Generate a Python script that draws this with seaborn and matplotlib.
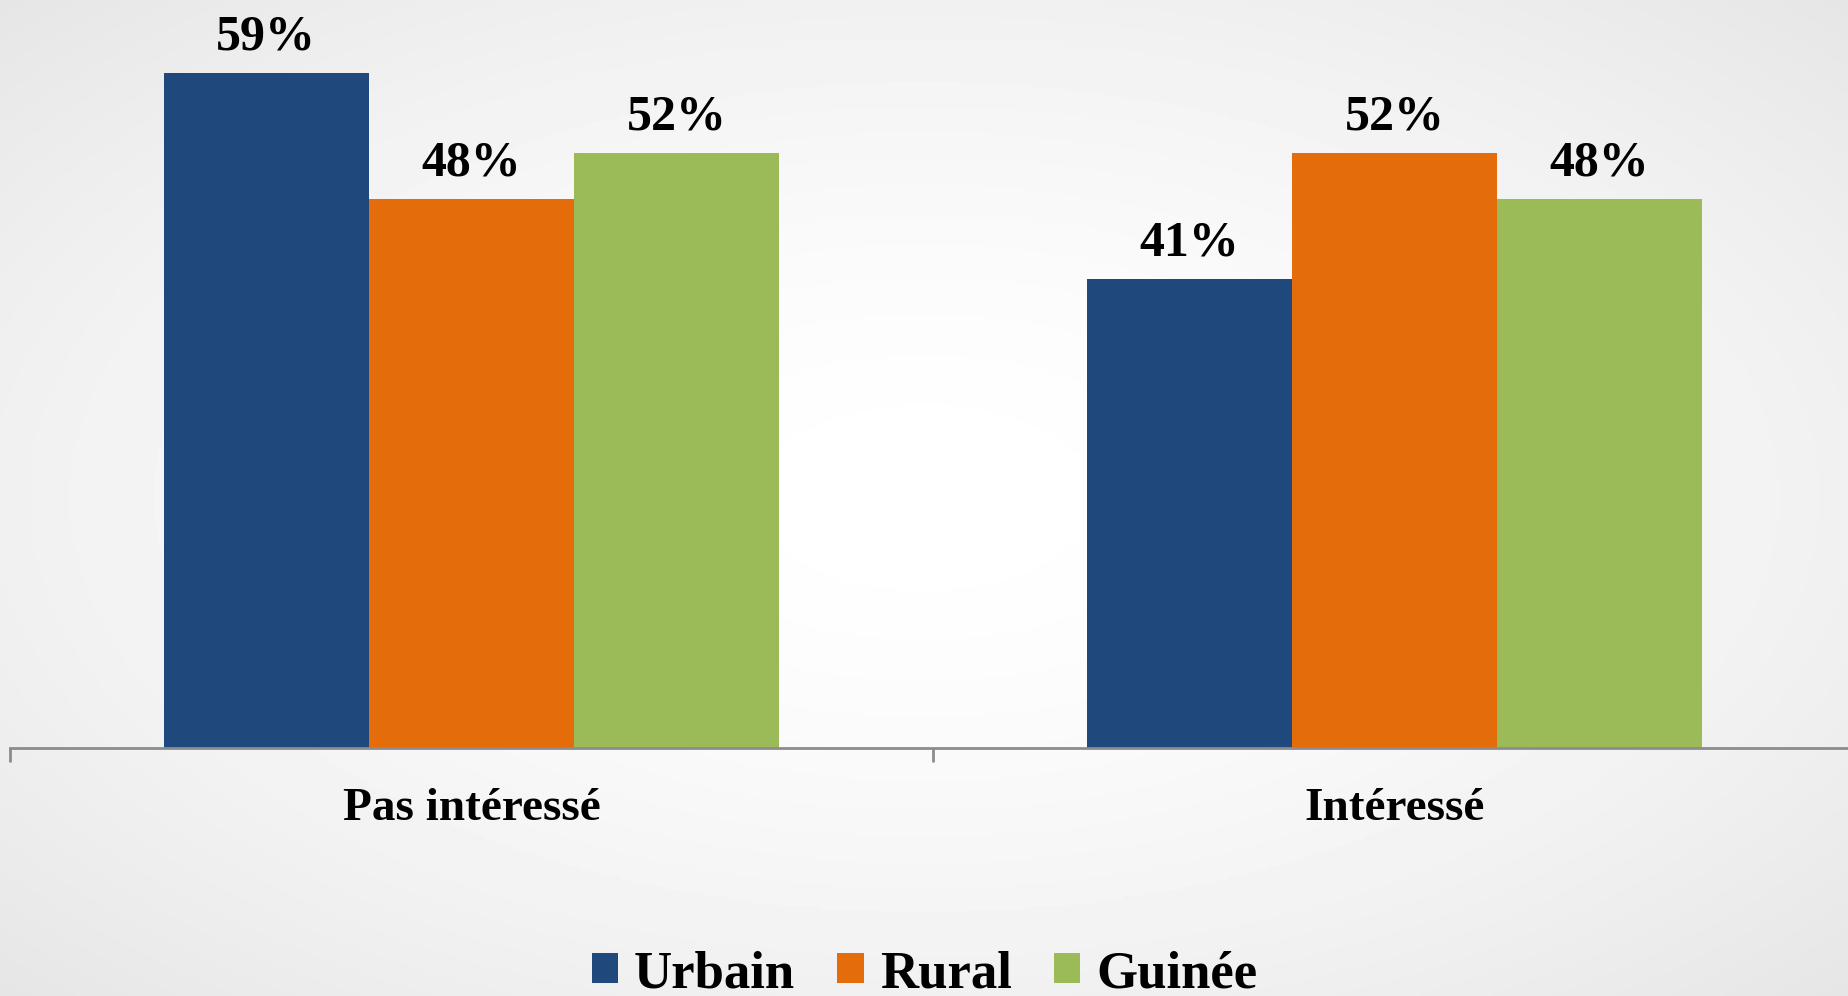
import numpy as np
import pandas as pd
import matplotlib
matplotlib.use("Agg")
import matplotlib.pyplot as plt
import seaborn as sns

# data
categories = ["Pas intéressé", "Intéressé"]
groups = ["Urbain", "Rural", "Guinée"]
urbain = [59, 41]
rural = [48, 52]
guinee = [52, 48]
colors = ["#1F497D", "#E46C0A", "#9BBB59"]

df = pd.DataFrame({
    "categorie": categories * 3,
    "zone": [g for g in groups for _ in categories],
    "valeur": urbain + rural + guinee,
})

sns.set_theme(style="white")
plt.rcParams["font.family"] = ["Liberation Serif", "DejaVu Serif"]
plt.rcParams["font.weight"] = "bold"
plt.rcParams["text.color"] = "black"
plt.rcParams["xtick.color"] = "black"
plt.rcParams["xtick.labelcolor"] = "black"

W, H, DPI = 1849, 996, 100
fig = plt.figure(figsize=(W / DPI, H / DPI), dpi=DPI)

# soft radial grey background
bg = fig.add_axes([0, 0, 1, 1], zorder=-10)
yy, xx = np.mgrid[-1:1:300j, -1:1:560j]
r = np.sqrt(xx ** 2 + yy ** 2) / np.sqrt(2)
bg.imshow(1 - 0.10 * r ** 1.6, cmap="gray", vmin=0, vmax=1, aspect="auto",
          extent=[0, 1, 0, 1])
bg.set_axis_off()

# main axes placed in pixel space
base_px = 747.5
px_per_pct = 11.43
ymax = 65
left_px, right_px = 10, 1856
ax = fig.add_axes([left_px / W, (H - base_px) / H, (right_px - left_px) / W,
                   ymax * px_per_pct / H])
ax.set_facecolor("none")

sns.barplot(data=df, x="categorie", y="valeur", hue="zone", order=categories,
            hue_order=groups, palette=colors, width=0.667, gap=0,
            saturation=1, linewidth=0, ax=ax)

ax.set_xlim(-0.5, 1.5)
ax.set_ylim(0, ymax)
ax.set_xlabel("")
ax.set_ylabel("")
ax.set_yticks([])
for s in ["top", "right", "left"]:
    ax.spines[s].set_visible(False)
ax.spines["bottom"].set_color("#8c8c8c")
ax.spines["bottom"].set_linewidth(2)

ax.set_xticks([0, 1])
ax.set_xticklabels(categories, fontsize=34, fontweight="bold", color="black")
ax.tick_params(axis="x", which="major", length=0, pad=29)
ax.set_xticks([-0.5, 0.5, 1.5], minor=True)
ax.tick_params(axis="x", which="minor", length=10, width=2, color="#8c8c8c",
               direction="out", bottom=True)

for cont in ax.containers:
    ax.bar_label(cont, labels=[f"{v:.0f}%" for v in cont.datavalues],
                 padding=9, fontsize=36, fontweight="bold", color="black")

sns.move_legend(ax, "center", bbox_to_anchor=(0.5, 22 / H),
                bbox_transform=fig.transFigure, ncol=3, frameon=False,
                title=None, fontsize=38, handlelength=0.5, handleheight=0.5,
                handletextpad=0.3, columnspacing=0.8)
for t in ax.get_legend().get_texts():
    t.set_color("black")

fig.savefig("out.png", dpi=DPI)
